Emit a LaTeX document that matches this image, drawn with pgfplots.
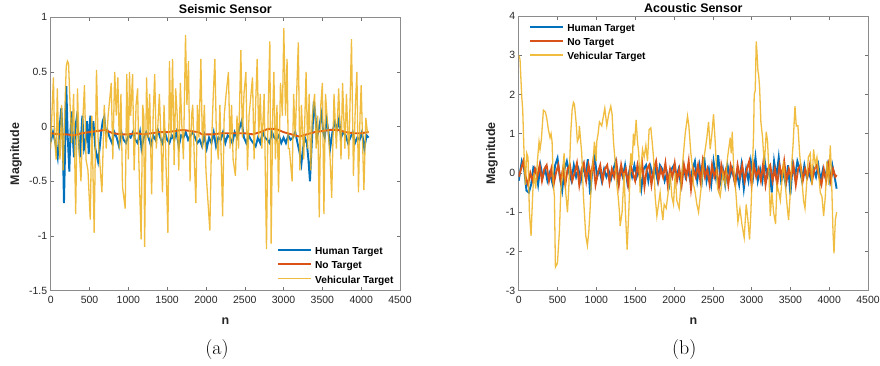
\documentclass[border=0pt]{standalone}
\usepackage{pgfplots}
\pgfplotsset{compat=1.18}
\usepackage{fontspec}
\newfontfamily\arial{Liberation Sans}
\definecolor{mblue}{rgb}{0,0.447,0.741}
\definecolor{mred}{rgb}{0.85,0.325,0.098}
\definecolor{myel}{rgb}{0.929,0.694,0.125}
\definecolor{mtext}{rgb}{0.15,0.15,0.15}
\pgfplotsset{
  mstyle/.style={
    scale only axis, width=349.3bp,
    xmin=0, xmax=4500, xtick={0,500,...,4500},
    axis line style={draw=black!45, line width=0.6bp},
    tick style={draw=black!55, line width=0.5bp},
    tick align=inside, major tick length=3.5bp,
    tick label style={font=\arial\fontsize{10.5}{12}\selectfont, text=mtext},
    /pgf/number format/assume math mode=true,
    /pgf/number format/set thousands separator={},
    scaled ticks=false,
    xticklabel style={yshift=-2bp},
    every axis title shift=0pt,
    xlabel style={at={(axis description cs:0.5,-0.1097)}, anchor=center,
      font=\arial\bfseries\fontsize{12.5}{14}\selectfont, text=mtext},
    title style={anchor=center,
      font=\arial\bfseries\fontsize{12.5}{14}\selectfont, text=black},
    legend cell align=left,
    legend image code/.code={\draw[#1] (0bp,3.3bp) -- (33bp,3.3bp);},
    legend style={draw=none, fill=none, inner sep=0pt, row sep=0bp,
      /tikz/every odd column/.append style={column sep=2.5bp},
      font=\arial\bfseries\fontsize{10.2}{12}\selectfont, text=black,
      nodes={inner sep=0.5bp, text height=8bp, text depth=5.1bp}},
  },
  hum/.style={mblue, line width=1.9bp},
  not/.style={mred, line width=1.9bp},
  veh/.style={myel, line width=1.3bp, draw opacity=0.85},
}
\begin{document}
\begin{tikzpicture}
\useasboundingbox (0,0) rectangle (880bp,366bp);
\begin{axis}[mstyle, at={(50.7bp,75.3bp)}, anchor=south west, height=273.4bp,
  ymin=-1.5, ymax=1, ytick={-1.5,-1,...,1},
  title={Seismic Sensor}, xlabel={n}, ylabel={Magnitude},
  title style={at={(axis description cs:0.5,1.0315)}},
  ylabel style={at={(axis description cs:-0.0993,0.5)}, anchor=center, rotate=0,
      font=\arial\bfseries\fontsize{12.5}{14}\selectfont, text=mtext},
  legend style={at={(rel axis cs:0.648,0.163)}, anchor=north west}]
\addplot[hum] coordinates {
(0,-0.14)(30,-0.05)(60,-0.15)(90,-0.28)(115,0.0)(137,0.17)(155,-0.1)(171,-0.70)(186,-0.2)(201,0.37)
(220,-0.1)(240,-0.41)(255,-0.05)(270,0.14)(285,-0.1)(300,-0.28)(318,0.0)(335,0.08)(355,-0.05)(378,-0.28)
(395,-0.05)(408,0.1)(430,-0.2)(451,-0.14)(470,0.05)(490,-0.25)(510,0.1)(530,-0.1)(550,0.05)(575,-0.2)
(610,-0.32)(630,-0.2)(650,-0.05)(670,0.05)(690,0.09)(710,-0.05)(730,-0.03)(760,-0.1)(790,-0.15)(820,-0.05)
(850,-0.1)(880,-0.18)(910,-0.05)(940,-0.12)(970,-0.15)(1000,-0.08)(1030,-0.1)(1060,-0.05)(1090,-0.12)(1120,-0.15)
(1150,-0.05)(1170,-0.2)(1200,-0.1)(1230,-0.05)(1260,-0.1)(1290,-0.17)(1320,-0.08)(1350,-0.12)(1380,-0.03)(1410,-0.1)
(1440,-0.15)(1470,-0.05)(1500,-0.12)(1530,-0.15)(1560,-0.08)(1590,-0.12)(1620,-0.05)(1650,-0.18)(1680,-0.08)(1710,-0.1)
(1740,-0.05)(1770,-0.12)(1800,-0.08)(1830,-0.05)(1860,-0.1)(1890,-0.15)(1920,-0.12)(1950,-0.18)(1980,-0.08)(2010,-0.2)
(2040,-0.1)(2070,-0.15)(2100,-0.05)(2130,-0.18)(2160,-0.1)(2190,-0.12)(2220,-0.05)(2250,-0.15)(2280,-0.08)(2310,-0.1)
(2340,-0.15)(2370,-0.05)(2400,-0.1)(2430,-0.02)(2460,0.05)(2490,-0.1)(2520,-0.15)(2550,-0.08)(2580,-0.12)(2610,-0.15)
(2640,-0.18)(2670,-0.1)(2700,-0.15)(2730,-0.05)(2760,-0.1)(2790,-0.12)(2820,-0.15)(2850,-0.05)(2880,-0.1)(2910,-0.12)
(2940,-0.08)(2970,-0.15)(3000,-0.1)(3030,-0.15)(3060,-0.08)(3090,-0.12)(3120,-0.1)(3150,-0.05)(3180,-0.15)(3210,-0.25)
(3230,-0.34)(3250,-0.2)(3275,-0.1)(3300,-0.15)(3320,-0.3)(3340,-0.5)(3360,-0.2)(3375,0.0)(3390,0.23)(3410,0.1)
(3430,-0.1)(3460,0.0)(3490,0.12)(3510,-0.05)(3530,-0.1)(3555,0.06)(3580,-0.05)(3600,-0.2)(3630,-0.05)(3660,0.04)
(3690,-0.02)(3715,0.07)(3740,-0.1)(3770,-0.05)(3800,-0.08)(3830,-0.15)(3860,-0.1)(3890,-0.05)(3920,-0.15)(3950,-0.1)
(3980,-0.12)(4010,-0.05)(4040,-0.2)(4070,-0.08)(4096,-0.1)};
\addlegendentry{Human Target}
\addplot[not] coordinates {
(0,-0.06)(100,-0.07)(200,-0.07)(300,-0.08)(400,-0.06)(500,-0.05)(600,-0.04)(700,-0.03)(800,-0.06)(900,-0.07)
(1000,-0.07)(1100,-0.06)(1200,-0.07)(1300,-0.06)(1400,-0.05)(1500,-0.05)(1600,-0.04)(1700,-0.03)(1800,-0.04)(1900,-0.05)
(1950,-0.07)(2000,-0.07)(2100,-0.07)(2200,-0.06)(2300,-0.06)(2400,-0.06)(2500,-0.06)(2600,-0.07)(2700,-0.05)(2800,-0.02)
(2900,-0.02)(3000,-0.05)(3100,-0.07)(3200,-0.09)(3300,-0.07)(3400,-0.05)(3500,-0.04)(3600,-0.03)(3700,-0.03)(3800,-0.05)
(3900,-0.06)(4000,-0.06)(4096,-0.05)};
\addlegendentry{No Target}
\addplot[veh] coordinates {
(0,-0.2)(12,0.05)(35,0.45)(50,-0.1)(70,-0.3)(85,0.35)(100,-0.1)(120,-0.3)(140,0.2)(160,-0.4)
(180,0.1)(200,0.55)(215,0.6)(230,0.58)(250,0.2)(270,-0.15)(295,0.3)(322,-0.8)(345,0.35)(365,-0.2)
(390,-0.5)(410,0.0)(435,0.38)(455,-0.3)(480,-0.4)(510,-0.85)(530,0.1)(560,-0.97)(590,0.52)(610,-0.1)
(630,-0.3)(660,-0.6)(690,0.2)(715,-0.2)(740,0.1)(780,0.4)(800,-0.3)(825,0.5)(845,0.1)(865,0.45)
(885,-0.2)(905,0.3)(925,-0.55)(960,-0.75)(980,0.48)(1000,-0.3)(1015,0.5)(1030,0.1)(1055,0.48)(1075,-0.4)
(1100,0.2)(1120,0.35)(1135,-0.3)(1165,-1.03)(1185,0.2)(1200,0.1)(1210,-1.1)(1235,0.45)(1255,-0.1)(1275,0.3)
(1300,-0.62)(1320,0.1)(1340,0.48)(1360,-0.2)(1380,0.0)(1400,0.3)(1420,-0.1)(1440,-0.6)(1460,0.2)(1480,-0.2)
(1510,-0.97)(1530,0.6)(1550,-0.1)(1570,0.62)(1590,-0.35)(1610,0.35)(1630,0.1)(1650,-0.4)(1670,0.4)(1690,0.0)
(1710,-0.3)(1737,0.84)(1755,0.2)(1775,0.6)(1795,-0.5)(1815,0.1)(1830,0.2)(1850,-0.3)(1870,-0.7)(1890,0.2)
(1910,-0.1)(1935,0.62)(1955,-0.2)(1980,0.2)(2000,-0.4)(2050,-0.95)(2070,-0.2)(2095,0.3)(2115,0.62)(2135,-0.1)
(2160,-0.3)(2180,0.2)(2215,-0.82)(2235,0.1)(2260,0.3)(2290,0.5)(2310,-0.2)(2330,0.2)(2350,-0.3)(2380,-0.45)
(2400,0.1)(2420,-0.2)(2450,0.7)(2470,-0.1)(2490,0.3)(2515,0.5)(2535,-0.4)(2555,0.1)(2600,0.45)(2620,-0.3)
(2640,0.2)(2660,0.62)(2680,-0.1)(2700,0.3)(2720,-0.2)(2750,0.3)(2780,-1.12)(2800,0.1)(2823,0.78)(2840,-1.07)
(2860,0.1)(2875,0.5)(2895,-0.3)(2915,0.2)(2935,-0.6)(2960,0.4)(2985,0.1)(3003,0.9)(3025,0.1)(3045,0.62)
(3060,-0.2)(3075,-0.2)(3110,-0.5)(3130,0.3)(3150,-0.1)(3190,0.77)(3210,-0.4)(3230,0.2)(3260,-0.3)(3290,0.5)
(3310,-0.2)(3330,0.3)(3350,-0.4)(3370,0.1)(3400,0.3)(3420,-0.2)(3440,0.1)(3460,-0.83)(3480,0.2)(3500,0.4)
(3520,-0.8)(3540,0.3)(3560,0.1)(3600,-0.3)(3620,-0.65)(3650,0.3)(3680,-0.2)(3710,0.35)(3740,-0.3)(3760,0.4)
(3790,-0.2)(3810,0.3)(3840,-0.3)(3875,0.8)(3900,-0.45)(3925,0.2)(3945,0.5)(3965,-0.6)(3985,0.1)(4000,0.38)
(4020,-0.2)(4035,-0.58)(4060,0.08)(4080,-0.05)(4096,-0.05)};
\addlegendentry{Vehicular Target}
\end{axis}
\begin{axis}[mstyle, at={(518.7bp,75.3bp)}, anchor=south west, height=274.7bp,
  ymin=-3, ymax=4, ytick={-3,-2,...,4},
  title={Acoustic Sensor}, xlabel={n}, ylabel={Magnitude},
  title style={at={(axis description cs:0.5,1.0275)}},
  ylabel style={at={(axis description cs:-0.0765,0.5)}, anchor=center, rotate=0,
      font=\arial\bfseries\fontsize{12.5}{14}\selectfont, text=mtext},
  legend style={at={(rel axis cs:0.03,0.975)}, anchor=north west}]
\addplot[hum] coordinates {
(0,-0.2)(40,0.3)(70,0.1)(100,-0.45)(130,-0.5)(160,-0.3)(190,0.15)(220,0.1)(250,-0.3)(280,0.2)
(310,-0.1)(340,0.1)(370,-0.2)(400,0.0)(440,-0.3)(470,0.2)(500,0.38)(530,-0.1)(560,-0.45)(590,0.1)
(620,0.3)(650,0.0)(680,-0.2)(710,0.2)(740,-0.1)(770,0.1)(800,-0.2)(830,0.2)(860,-0.1)(890,0.35)
(920,-0.55)(950,0.1)(980,0.4)(1010,-0.1)(1040,0.1)(1070,-0.2)(1100,0.1)(1130,-0.1)(1160,0.05)(1190,-0.15)
(1220,0.1)(1250,0.3)(1280,-0.2)(1310,0.1)(1340,-0.1)(1370,0.2)(1400,-0.25)(1430,0.1)(1460,-0.1)(1490,0.2)
(1520,-0.1)(1550,0.1)(1580,-0.4)(1610,0.1)(1640,0.2)(1670,-0.2)(1700,0.15)(1730,-0.1)(1760,0.1)(1790,-0.2)
(1820,0.2)(1850,0.1)(1880,-0.2)(1910,0.0)(1940,-0.3)(1970,0.1)(2000,0.2)(2030,-0.1)(2060,0.1)(2090,-0.3)
(2120,0.2)(2150,-0.1)(2180,0.1)(2210,-0.2)(2240,0.1)(2270,0.3)(2300,-0.2)(2330,0.2)(2360,-0.2)(2390,0.4)
(2420,-0.2)(2450,0.1)(2480,-0.3)(2510,0.3)(2540,-0.1)(2570,0.45)(2600,-0.2)(2630,0.1)(2660,-0.3)(2690,0.2)
(2720,-0.1)(2750,0.1)(2780,-0.2)(2810,0.0)(2840,-0.3)(2870,0.2)(2900,-0.4)(2930,0.1)(2960,-0.2)(2990,0.3)
(3020,-0.1)(3050,0.4)(3080,-0.2)(3110,0.1)(3140,-0.2)(3170,0.3)(3200,-0.1)(3230,0.1)(3260,-0.5)(3290,0.3)
(3320,-0.1)(3350,0.4)(3380,-0.2)(3410,0.0)(3440,-0.3)(3470,0.2)(3500,-0.55)(3530,0.2)(3560,-0.1)(3590,0.3)
(3620,0.1)(3650,-0.2)(3680,0.2)(3710,-0.1)(3740,0.0)(3770,-0.2)(3800,0.1)(3830,-0.1)(3860,0.2)(3890,-0.2)
(3920,0.1)(3950,-0.1)(3980,0.2)(4010,-0.2)(4040,0.2)(4070,-0.1)(4096,-0.4)};
\addlegendentry{Human Target}
\addplot[not] coordinates {
(0,-0.1)(30,0.1)(60,0.3)(90,-0.1)(120,-0.3)(150,0.0)(180,-0.2)(210,0.1)(240,-0.1)(270,0.2)
(300,-0.2)(330,0.1)(360,0.2)(390,-0.2)(420,0.1)(450,-0.3)(480,0.0)(510,0.2)(540,-0.2)(570,0.1)
(600,-0.3)(630,0.1)(660,0.2)(690,-0.2)(720,0.0)(750,0.25)(780,-0.3)(810,0.1)(840,0.25)(870,-0.2)
(900,0.2)(930,-0.1)(960,0.3)(990,-0.3)(1020,0.0)(1050,0.2)(1080,-0.2)(1110,0.1)(1140,0.2)(1170,-0.25)
(1200,0.1)(1230,-0.1)(1260,0.25)(1290,-0.3)(1320,0.2)(1350,-0.1)(1380,0.1)(1410,-0.3)(1440,0.2)(1470,0.0)
(1500,-0.2)(1530,0.2)(1560,-0.1)(1590,0.25)(1620,-0.35)(1650,0.1)(1680,0.2)(1710,-0.3)(1740,0.1)(1770,0.3)
(1800,-0.2)(1830,0.1)(1860,-0.1)(1890,0.25)(1920,-0.3)(1950,0.1)(1980,-0.1)(2010,0.25)(2040,-0.2)(2070,0.1)
(2100,-0.3)(2130,0.2)(2160,-0.1)(2190,0.3)(2220,-0.4)(2250,0.1)(2280,-0.1)(2310,0.2)(2340,-0.2)(2370,0.3)
(2400,-0.1)(2430,0.1)(2460,-0.3)(2490,0.2)(2520,-0.1)(2550,0.1)(2580,-0.35)(2610,0.2)(2640,-0.1)(2670,0.1)
(2700,-0.3)(2730,0.2)(2760,0.0)(2790,-0.3)(2820,0.2)(2850,-0.1)(2880,0.2)(2910,-0.2)(2940,0.1)(2970,0.3)
(3000,-0.3)(3030,0.2)(3060,-0.1)(3090,0.1)(3120,-0.2)(3150,0.25)(3180,-0.3)(3210,0.1)(3240,0.2)(3270,-0.2)
(3300,0.1)(3330,-0.3)(3360,0.2)(3390,-0.1)(3420,0.3)(3450,-0.2)(3480,0.1)(3510,-0.1)(3540,0.2)(3570,-0.3)
(3600,0.1)(3630,0.2)(3660,-0.2)(3690,0.1)(3720,-0.1)(3750,0.2)(3780,-0.2)(3810,0.1)(3840,0.2)(3870,-0.1)
(3900,-0.3)(3930,0.1)(3960,-0.2)(3990,0.2)(4020,-0.2)(4050,0.1)(4080,-0.1)(4096,-0.05)};
\addlegendentry{No Target}
\addplot[veh] coordinates {
(0,3.0)(17,2.9)(39,1.95)(52,1.6)(69,0.5)(86,-0.3)(103,0.5)(120,0.4)(138,-1.0)(159,-1.6)
(181,-0.5)(198,0.0)(219,-0.4)(241,0.3)(262,0.8)(275,0.6)(292,0.85)(318,1.6)(344,1.55)(361,1.4)
(383,1.1)(404,0.9)(417,1.0)(430,0.8)(447,-0.3)(460,-0.6)(473,-2.4)(486,-2.35)(499,-2.3)(524,-1.5)
(542,-0.5)(563,0.0)(585,0.5)(606,-0.5)(628,-1.0)(645,-0.4)(670,1.0)(688,1.6)(705,1.8)(718,1.75)
(739,1.3)(756,0.8)(774,0.9)(782,1.2)(812,0.5)(834,-0.6)(864,-1.6)(885,-1.85)(903,-1.5)(920,-0.9)
(941,0.0)(958,0.3)(976,0.8)(997,0.3)(1006,0.8)(1023,1.0)(1040,1.3)(1070,1.2)(1109,1.65)(1135,1.2)
(1160,1.5)(1186,1.7)(1203,1.5)(1221,0.8)(1242,0.3)(1264,-0.3)(1281,-0.6)(1298,-1.0)(1307,-1.35)(1332,-1.0)
(1358,0.0)(1375,-1.0)(1397,-1.95)(1418,-1.0)(1444,0.5)(1461,0.2)(1478,1.0)(1491,0.7)(1513,1.35)(1530,0.8)
(1547,0.5)(1564,-0.5)(1577,0.2)(1595,0.6)(1616,0.4)(1638,0.7)(1659,0.3)(1680,1.1)(1702,1.15)(1719,0.8)
(1737,0.4)(1758,-0.6)(1780,-1.1)(1801,-0.8)(1822,-0.5)(1840,-0.9)(1857,-1.2)(1874,-0.8)(1900,-0.9)(1926,-0.5)
(1951,0.0)(1973,-0.6)(1994,-0.8)(2016,0.0)(2037,-0.7)(2067,-0.9)(2093,-0.2)(2123,0.5)(2145,1.0)(2175,1.45)
(2192,1.2)(2218,0.5)(2235,0.2)(2252,-0.3)(2274,-0.5)(2295,-0.8)(2317,-1.0)(2338,-0.6)(2360,-0.2)(2381,0.3)
(2403,0.6)(2424,0.9)(2446,1.3)(2467,0.6)(2489,1.0)(2510,1.5)(2531,0.8)(2562,-0.4)(2596,-0.6)(2631,0.0)
(2660,-0.3)(2691,0.4)(2725,0.9)(2738,0.5)(2751,1.05)(2768,0.2)(2798,-0.5)(2824,-1.25)(2850,-0.9)(2875,-1.3)
(2905,-1.65)(2931,-0.8)(2953,-1.2)(2974,-1.7)(2991,-1.0)(3009,0.0)(3026,1.0)(3034,2.0)(3047,2.1)(3060,3.35)
(3069,3.1)(3082,2.6)(3091,2.5)(3103,2.2)(3120,1.3)(3142,0.9)(3163,0.2)(3176,0.6)(3189,1.05)(3206,0.8)
(3224,0.0)(3241,-1.1)(3262,-0.5)(3284,-1.0)(3309,-1.3)(3327,-0.3)(3352,-0.5)(3370,-0.7)(3391,-0.2)(3413,0.3)
(3434,-0.3)(3456,-0.8)(3477,-1.2)(3499,-0.5)(3516,0.2)(3534,0.7)(3559,1.7)(3576,1.2)(3597,1.2)(3619,0.5)
(3649,-0.2)(3670,-0.7)(3688,-0.9)(3705,-0.4)(3731,0.4)(3756,0.5)(3778,-0.3)(3799,0.6)(3821,0.2)(3842,0.4)
(3864,0.0)(3885,-0.5)(3907,-0.6)(3928,-1.1)(3950,-0.6)(3971,0.3)(3993,-0.3)(4014,0.7)(4027,0.1)(4049,-1.5)
(4062,-2.05)(4079,-1.2)(4096,-1.0)};
\addlegendentry{Vehicular Target}
\end{axis}
\node[font=\fontsize{20}{24}\selectfont, anchor=center] at (217bp,16bp) {(a)};
\node[font=\fontsize{20}{24}\selectfont, anchor=center] at (684.3bp,16bp) {(b)};
\end{tikzpicture}
\end{document}
